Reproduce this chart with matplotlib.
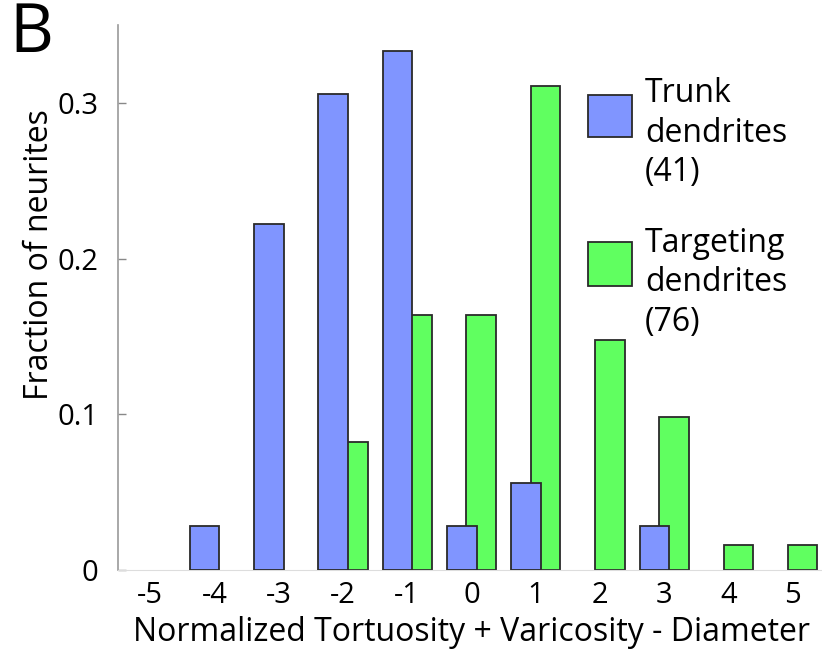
import numpy as np
from matplotlib import pyplot as plt
from matplotlib.patches import Rectangle

# data (fraction of neurites per bin)
bins = [-5, -4, -3, -2, -1, 0, 1, 2, 3, 4, 5]
trunk = [0, 0.028, 0.222, 0.306, 0.333, 0.028, 0.056, 0, 0.028, 0, 0]
targeting = [0, 0, 0, 0.082, 0.164, 0.164, 0.311, 0.148, 0.098, 0.016, 0.016]
yticks = [0, 0.1, 0.2, 0.3]
yticklabels = ['0', '0.1', '0.2', '0.3']
label_trunk = 'Trunk\ndendrites\n(41)'
label_target = 'Targeting\ndendrites\n(76)'

c_trunk = '#8095ff'
c_target = '#60ff60'
c_edge = '#2a2a2a'

plt.rcParams['font.family'] = ['Open Sans', 'DejaVu Sans']

fig = plt.figure(figsize=(8.22, 6.51), dpi=100)
ax = fig.add_axes([118/822, 81/651, 707/822, 545/651])

x = np.array(bins, dtype=float)
w = 0.46
off = 0.152

# green behind, blue in front
m2 = np.array(targeting) > 0
ax.bar(x[m2] + off, np.array(targeting)[m2], width=w, color=c_target,
       edgecolor=c_edge, linewidth=1.3, zorder=2)
m1 = np.array(trunk) > 0
ax.bar(x[m1] - off, np.array(trunk)[m1], width=w, color=c_trunk,
       edgecolor=c_edge, linewidth=1.3, zorder=3)

ax.set_xlim(-5.5, 5.5)
ax.set_ylim(0, 0.35)
ax.set_xticks(bins)
ax.set_xticklabels([str(b) for b in bins], fontsize=21)
ax.set_yticks(yticks)
ax.set_yticklabels(yticklabels, fontsize=21)
ax.tick_params(axis='y', direction='in', length=6, width=1, color='#888888', pad=14)
ax.tick_params(axis='x', length=0, pad=8)

for s in ['top', 'right']:
    ax.spines[s].set_visible(False)
ax.spines['left'].set_color('#999999')
ax.spines['bottom'].set_color('#dddddd')
ax.spines['left'].set_linewidth(1.2)

ax.set_xlabel('Normalized Tortuosity + Varicosity - Diameter', fontsize=23, labelpad=4)
ax.set_ylabel('Fraction of neurites', fontsize=23)
ax.yaxis.set_label_coords(-0.088, 0.578)

# legend drawn by hand
fig.patches.append(Rectangle((588/822, 1 - 137/651), 44/822, 42/651,
                             transform=fig.transFigure, facecolor=c_trunk,
                             edgecolor=c_edge, linewidth=1.3))
fig.patches.append(Rectangle((588/822, 1 - 286/651), 44/822, 44/651,
                             transform=fig.transFigure, facecolor=c_target,
                             edgecolor=c_edge, linewidth=1.3))
fig.text(645/822, 1 - 133/651, label_trunk, fontsize=23, ha='left', va='center',
         linespacing=1.25)
fig.text(645/822, 1 - 283/651, label_target, fontsize=23, ha='left', va='center',
         linespacing=1.25)

fig.text(9/822, 1 - 34/651, 'B', fontsize=49, ha='left', va='center')

fig.savefig('out.png', dpi=100)
